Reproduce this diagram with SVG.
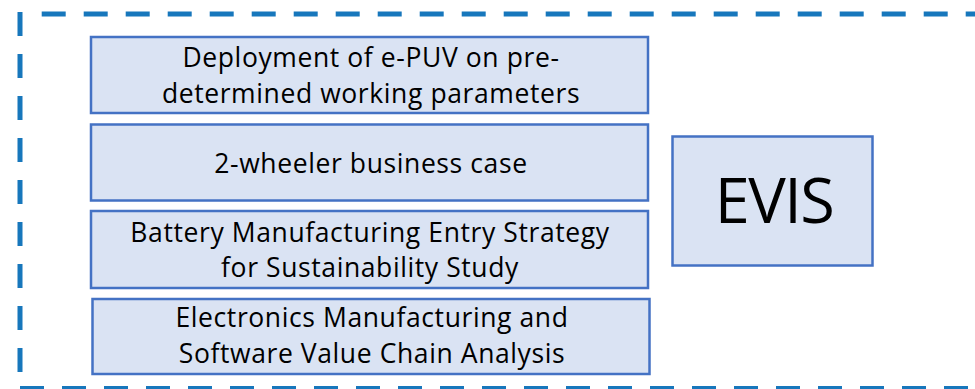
<svg xmlns="http://www.w3.org/2000/svg" width="975" height="389" viewBox="0 0 975 389">
<style>
.frame{fill:none;stroke:#1777BC;stroke-width:5;stroke-dasharray:24 18}
.box{fill:#DAE3F3;stroke:#4472C4;stroke-width:2.5}
.t{font-family:"Open Sans","Noto Sans","DejaVu Sans",sans-serif;font-size:26.5px;letter-spacing:0.6px;fill:#000;text-anchor:middle}
.big{font-size:63px;letter-spacing:-1.5px}
</style>
<rect width="975" height="389" fill="#fff"/>
<g id="frame">
<line class="frame" x1="41.7" y1="14" x2="1000" y2="14"/>
<line class="frame" x1="20" y1="12" x2="20" y2="389"/>
<line class="frame" x1="20" y1="388.5" x2="1000" y2="388.5"/>
</g>
<g id="connectors"></g>
<g id="n1">
<rect class="box" x="91" y="37" width="557" height="76"/>
<text class="t" x="371" y="66.7">Deployment of e-PUV on pre-</text>
<text class="t" x="371" y="102.5">determined working parameters</text>
</g>
<g id="n2">
<rect class="box" x="91" y="124.5" width="557" height="76"/>
<text class="t" x="371" y="172.5">2-wheeler business case</text>
</g>
<g id="n3">
<rect class="box" x="91" y="211" width="557" height="77"/>
<text class="t" x="370" y="241.5">Battery Manufacturing Entry Strategy</text>
<text class="t" x="370" y="276.5">for Sustainability Study</text>
</g>
<g id="n4">
<rect class="box" x="92.5" y="299" width="557" height="75"/>
<text class="t" x="372" y="327">Electronics Manufacturing and</text>
<text class="t" x="372" y="362.5">Software Value Chain Analysis</text>
</g>
<g id="evis">
<rect class="box" x="672.5" y="136.5" width="200" height="129"/>
<text class="t big" x="774" y="223.3">EVIS</text>
</g>
</svg>
